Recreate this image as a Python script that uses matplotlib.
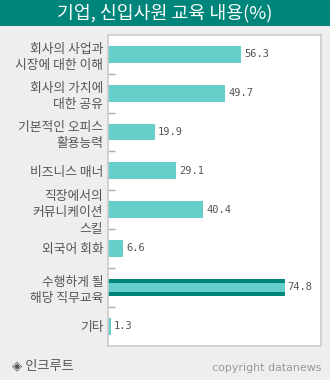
import matplotlib
matplotlib.use("Agg")
import matplotlib.pyplot as plt
from matplotlib.patches import Rectangle

plt.rcParams['font.family'] = ['Noto Sans CJK KR', 'DejaVu Sans']

title = "기업, 신입사원 교육 내용(%)"
categories = ["회사의 사업과\n시장에 대한 이해", "회사의 가치에\n대한 공유", "기본적인 오피스\n활용능력",
              "비즈니스 매너", "직장에서의\n커뮤니케이션\n스킬", "외국어 회화",
              "수행하게 될\n해당 직무교육", "기타"]
values = [56.3, 49.7, 19.9, 29.1, 40.4, 6.6, 74.8, 1.3]
highlight = 6
source = "◈ 인크루트"
credit = "copyright datanews"

W, H = 330, 380
light = "#66cfca"
dark = "#00857a"
bg = "#eeeeee"
grey = "#555555"

fig = plt.figure(figsize=(W / 100, H / 100), dpi=100, facecolor=bg)

# title bar
fig.patches.append(Rectangle((0, 1 - 26 / H), 1, 26 / H, transform=fig.transFigure,
                             facecolor=dark, edgecolor="none"))
fig.text(0.5, 1 - 13.5 / H, title, color="white", fontsize=13.2, ha="center", va="center")

ax = fig.add_axes([107.5 / W, (H - 345.5) / H, 213 / W, 310.5 / H])
ax.set_facecolor("white")
pos = list(range(len(categories)))
bh = 17 / 39
for i, v in zip(pos, values):
    if i == highlight:
        ax.barh(i, v, height=bh, color=dark, linewidth=0)
        ax.barh(i, v, height=9 / 39, color=light, linewidth=0)
    else:
        ax.barh(i, v, height=bh, color=light, linewidth=0)
    ax.text(v + 1.3, i, f"{v}", va="center", ha="left", fontsize=7.5,
            family="DejaVu Sans Mono", color=grey)

ax.set_xlim(0, 90)
ax.set_ylim(len(categories) - 0.5, -0.5)
ax.set_xticks([])
ax.set_yticks(pos)
ax.set_yticklabels(categories, fontsize=9.2, color=grey, linespacing=1.35)
ax.tick_params(axis="y", which="major", length=0, pad=3)
ax.set_yticks([p + 0.5 for p in pos[:-1]], minor=True)
ax.tick_params(axis="y", which="minor", direction="in", length=5, color="#aaaaaa", width=1)
for s in ax.spines.values():
    s.set_color("#cccccc")
    s.set_linewidth(1.2)

fig.text(12 / W, 1 - 366 / H, source, fontsize=9.5, color=grey, ha="left", va="center")
fig.text(322 / W, 1 - 368 / H, credit, fontsize=7.9, color="#999999", ha="right", va="center",
         family="DejaVu Sans")

fig.savefig("out.png", dpi=100, facecolor=bg)
